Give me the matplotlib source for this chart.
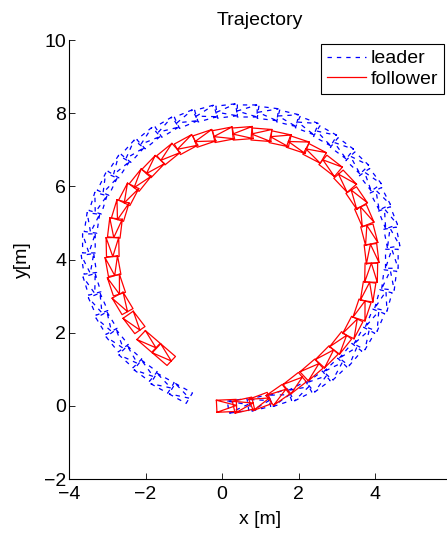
import numpy as np
import matplotlib.pyplot as plt
from matplotlib.lines import Line2D

plt.rcParams['font.family'] = ['Liberation Sans', 'DejaVu Sans']

# Pose centres (x [m], y [m])
leader_x = [0.42, 0.98, 1.52, 2.04, 2.52, 2.96, 3.36, 3.72, 4.00, 4.22, 4.37, 4.44,
            4.44, 4.34, 4.14, 3.88, 3.54, 3.14, 2.70, 2.22, 1.72, 1.20, 0.66, 0.12,
            -0.42, -0.94, -1.44, -1.92, -2.34, -2.70, -3.00, -3.24, -3.40, -3.48,
            -3.48, -3.40, -3.24, -3.02, -2.74, -2.40, -2.00, -1.56, -1.08]
leader_y = [0.00, 0.08, 0.22, 0.40, 0.66, 1.00, 1.40, 1.84, 2.34, 2.88, 3.44, 4.02,
            4.60, 5.14, 5.66, 6.18, 6.64, 7.04, 7.38, 7.66, 7.86, 7.99, 8.06, 8.06,
            7.99, 7.84, 7.62, 7.32, 6.96, 6.54, 6.06, 5.54, 5.00, 4.44,
            3.88, 3.32, 2.78, 2.26, 1.78, 1.34, 0.96, 0.62, 0.34]

follower_x = [0.12, 0.56, 1.00, 1.46, 1.90, 2.34, 2.74, 3.10, 3.42, 3.66, 3.82, 3.90,
              3.91, 3.85, 3.72, 3.52, 3.22, 2.84, 2.42, 1.98, 1.52, 1.03, 0.54, 0.04,
              -0.46, -0.94, -1.40, -1.80, -2.14, -2.44, -2.66, -2.80, -2.86, -2.85,
              -2.76, -2.60, -2.30, -1.92, -1.52]
follower_y = [0.00, 0.02, 0.12, 0.30, 0.62, 0.98, 1.34, 1.72, 2.14, 2.62, 3.12, 3.64,
              4.16, 4.68, 5.20, 5.68, 6.14, 6.56, 6.90, 7.14, 7.30, 7.41, 7.45, 7.41,
              7.31, 7.14, 6.88, 6.54, 6.17, 5.78, 5.34, 4.86, 4.34, 3.82,
              3.30, 2.80, 2.28, 1.76, 1.40]

x_ticks = [-4, -2, 0, 2, 4, 6]
y_ticks = [-2, 0, 2, 4, 6, 8, 10]

BODY_LEN = 0.52
BODY_WID = 0.33
DASH = (0, (3.5, 4))


def robot_outlines(xs, ys):
    # rectangle body with a triangle pointing along the heading
    xs = np.asarray(xs, float)
    ys = np.asarray(ys, float)
    dx = np.append(np.diff(xs), xs[-1] - xs[-2])
    dy = np.append(np.diff(ys), ys[-1] - ys[-2])
    th = np.arctan2(dy, dx)
    l, w = BODY_LEN / 2, BODY_WID / 2
    shape = np.array([[-l, w], [l, w], [l, -w], [-l, -w], [-l, w], [l, 0], [-l, -w]])
    out = []
    for x, y, t in zip(xs, ys, th):
        c, s = np.cos(t), np.sin(t)
        px = x + c * shape[:, 0] - s * shape[:, 1]
        py = y + s * shape[:, 0] + c * shape[:, 1]
        out.append((px, py))
    return out


fig = plt.figure(figsize=(4.47, 5.36), dpi=100)
ax = fig.add_axes([69 / 447, 1 - 479 / 536, (451.5 - 69) / 447, (479 - 40) / 536])

for px, py in robot_outlines(leader_x, leader_y):
    ax.plot(px, py, color='#0000ff', lw=0.9, linestyle=DASH)
for px, py in robot_outlines(follower_x, follower_y):
    ax.plot(px, py, color='#ff0000', lw=0.9)

ax.set_xlim(-4, 6)
ax.set_ylim(-2, 10)
ax.set_xticks(x_ticks)
ax.set_yticks(y_ticks)
ax.set_xticklabels(['\u22124', '\u22122', '0', '2', '4', '6'])
ax.set_yticklabels(['\u22122', '0', '2', '4', '6', '8', '10'])
ax.tick_params(direction='in', length=4, width=0.6, labelsize=14)
ax.tick_params(axis='x', pad=5)
ax.tick_params(axis='y', pad=2)
for side in ['top', 'right']:
    ax.spines[side].set_visible(False)
for side in ['left', 'bottom']:
    ax.spines[side].set_linewidth(0.8)

ax.set_title('Trajectory', fontsize=14, pad=11)
ax.set_xlabel('x [m]', fontsize=14)
ax.xaxis.set_label_coords(0.5, -0.072)
ax.set_ylabel('y[m]', fontsize=14)
ax.yaxis.set_label_coords(-0.10, 0.5)

handles = [Line2D([], [], color='#0000ff', lw=0.9, linestyle=DASH),
           Line2D([], [], color='#ff0000', lw=0.9)]
leg = ax.legend(handles, ['leader', 'follower'], loc='upper right',
                bbox_to_anchor=(444 / 447, 1 - 44 / 536), bbox_transform=fig.transFigure,
                borderaxespad=0, fontsize=14, fancybox=False, framealpha=1,
                edgecolor='k', handlelength=2.0, handletextpad=0.25,
                borderpad=0.3, labelspacing=0.15)
leg.get_frame().set_linewidth(0.8)

plt.savefig('out.png', dpi=100)
